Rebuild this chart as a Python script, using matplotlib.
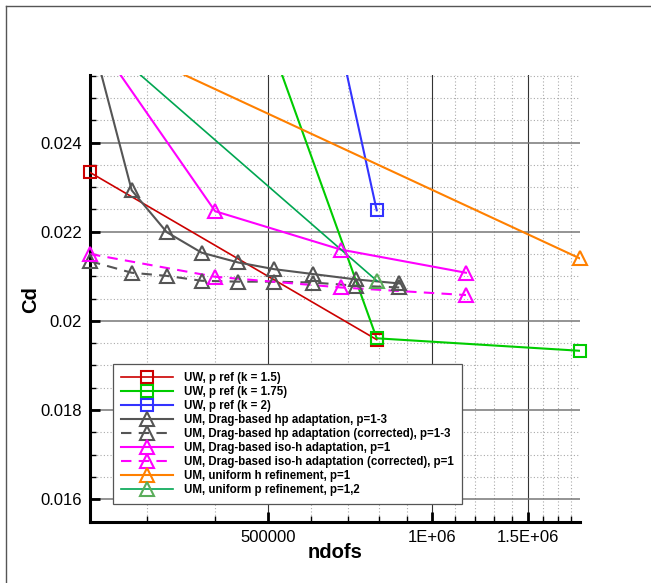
import numpy as np
import matplotlib
matplotlib.use('Agg')
import matplotlib.pyplot as plt
from matplotlib.lines import Line2D
from matplotlib.ticker import FixedLocator, FixedFormatter, MultipleLocator, NullFormatter, FuncFormatter

plt.rcParams['font.family'] = ['Liberation Sans', 'DejaVu Sans']

# data (ndofs, Cd)
uw15_x = [235800, 791500]
uw15_y = [0.02333, 0.01958]
uw175_x = [235800, 791500, 1868000]
uw175_y = [0.0375, 0.01961, 0.01933]
uw2_x = [235800, 791500]
uw2_y = [0.0518, 0.02248]
hp_x = [235800, 281200, 326100, 377900, 441100, 513500, 605600, 725300, 871000]
hp_y = [0.02650, 0.02293, 0.02199, 0.02153, 0.02131, 0.02116, 0.02105, 0.02093, 0.02084]
hpc_x = [235800, 281200, 326100, 377900, 441100, 513500, 605600, 725300, 871000]
hpc_y = [0.02134, 0.02108, 0.02101, 0.02090, 0.02088, 0.02088, 0.02086, 0.02079, 0.02075]
iso_x = [235800, 400000, 680000, 1154000]
iso_y = [0.02650, 0.02246, 0.02160, 0.02108]
isoc_x = [235800, 400000, 680000, 1154000]
isoc_y = [0.02150, 0.02099, 0.02075, 0.02058]
uh_x = [235800, 1868000]
uh_y = [0.02650, 0.02140]
up_x = [235800, 792000]
up_y = [0.02650, 0.02090]

labels = ['UW, p ref (k = 1.5)',
          'UW, p ref (k = 1.75)',
          'UW, p ref (k = 2)',
          'UM, Drag-based hp adaptation, p=1-3',
          'UM, Drag-based hp adaptation (corrected), p=1-3',
          'UM, Drag-based iso-h adaptation, p=1',
          'UM, Drag-based iso-h adaptation (corrected), p=1',
          'UM, uniform h refinement, p=1',
          'UM, uniform p refinement, p=1,2']

xticks = [5e5, 1e6, 1.5e6]
xtick_labels = ['500000', '1E+06', '1.5E+06']

xmin, xmax = 235800, 1868000
ymin, ymax = 0.01549, 0.025515

dash = (0, (5, 3.5))
series = [
    # x, y, line colour, marker colour, marker, linestyle, linewidth
    (uw15_x, uw15_y, '#cc0000', '#cc0000', 's', '-', 1.2),
    (uw175_x, uw175_y, '#00cc00', '#00cc00', 's', '-', 1.5),
    (uw2_x, uw2_y, '#3333ff', '#3333ff', 's', '-', 1.5),
    (hp_x, hp_y, '#555555', '#555555', '^', '-', 1.5),
    (hpc_x, hpc_y, '#555555', '#555555', '^', dash, 1.5),
    (iso_x, iso_y, '#ff00ff', '#ff00ff', '^', '-', 1.5),
    (isoc_x, isoc_y, '#ff00ff', '#ff00ff', '^', dash, 1.5),
    (uh_x, uh_y, '#ff8000', '#ff8000', '^', '-', 1.5),
    (up_x, up_y, '#00a651', '#5aad5a', '^', '-', 1.2),
]

fig = plt.figure(figsize=(6.51, 5.83), dpi=100)
ax = fig.add_axes([90 / 651, 61 / 583, 490 / 651, 447 / 583])

handles = []
for (x, y, c, mc, m, ls, lw), lab in zip(series, labels):
    x = np.array(x)
    y = np.array(y)
    ms = 8 if m == 's' else 10
    ax.plot(x, y, color=c, ls=ls, lw=lw, zorder=3)
    vis = y <= ymax
    ax.plot(x[vis], y[vis], ls='none', marker=m, ms=ms, mfc='none', mec=mc,
            mew=1.5, clip_on=False, zorder=4)
    handles.append(Line2D([], [], color=c, ls=ls, lw=lw, marker=m, ms=ms,
                          mfc='none', mec=mc, mew=1.5))

ax.set_xscale('log')
ax.set_xlim(xmin, xmax)
ax.set_ylim(ymin, ymax)

minor = [v for v in np.arange(3e5, 1.85e6, 1e5) if round(v) not in (500000, 1000000, 1500000)]
ax.xaxis.set_major_locator(FixedLocator(xticks))
ax.xaxis.set_major_formatter(FixedFormatter(xtick_labels))
ax.xaxis.set_minor_locator(FixedLocator(minor))
ax.xaxis.set_minor_formatter(NullFormatter())
ax.yaxis.set_major_locator(MultipleLocator(0.002))
ax.yaxis.set_minor_locator(MultipleLocator(0.0005))
ax.yaxis.set_major_formatter(FuncFormatter(lambda v, p: f'{v:g}'))

ax.tick_params(which='major', direction='in', length=7.5, width=2, labelsize=12, pad=6)
ax.tick_params(which='minor', direction='in', length=4, width=1)

for s in ['top', 'right']:
    ax.spines[s].set_visible(False)
for s in ['left', 'bottom']:
    ax.spines[s].set_linewidth(2.2)

ax.set_axisbelow(True)
ax.xaxis.grid(True, which='major', color='#333333', lw=0.8)
ax.yaxis.grid(True, which='major', color='#777777', lw=1.1)
ax.grid(True, which='minor', color='#aaaaaa', lw=0.8, ls=(0, (1, 2)))

fig.text(335 / 651, 1 - 553 / 583, 'ndofs', ha='center', va='center',
         fontsize=14.5, fontweight='bold')
fig.text(31 / 651, 1 - 300 / 583, 'Cd', ha='center', va='center',
         fontsize=14.5, fontweight='bold', rotation=90)

leg = ax.legend(handles, labels, loc='lower left', bbox_to_anchor=(0.047, 0.040),
                borderaxespad=0, prop={'weight': 'bold', 'size': 8.3},
                handlelength=4.5, handletextpad=0.9, labelspacing=0.17,
                borderpad=0.72, fancybox=False, framealpha=1, numpoints=1)
leg.get_frame().set_edgecolor('#555555')
leg.get_frame().set_linewidth(0.9)
leg.set_zorder(10)

# page frame
fig.add_artist(Line2D([6 / 651, 6 / 651], [0, 1 - 6 / 583], transform=fig.transFigure,
                      color='#555555', lw=1))
fig.add_artist(Line2D([6 / 651, 1], [1 - 6 / 583, 1 - 6 / 583], transform=fig.transFigure,
                      color='#555555', lw=1))

fig.savefig('out.png', dpi=100)
